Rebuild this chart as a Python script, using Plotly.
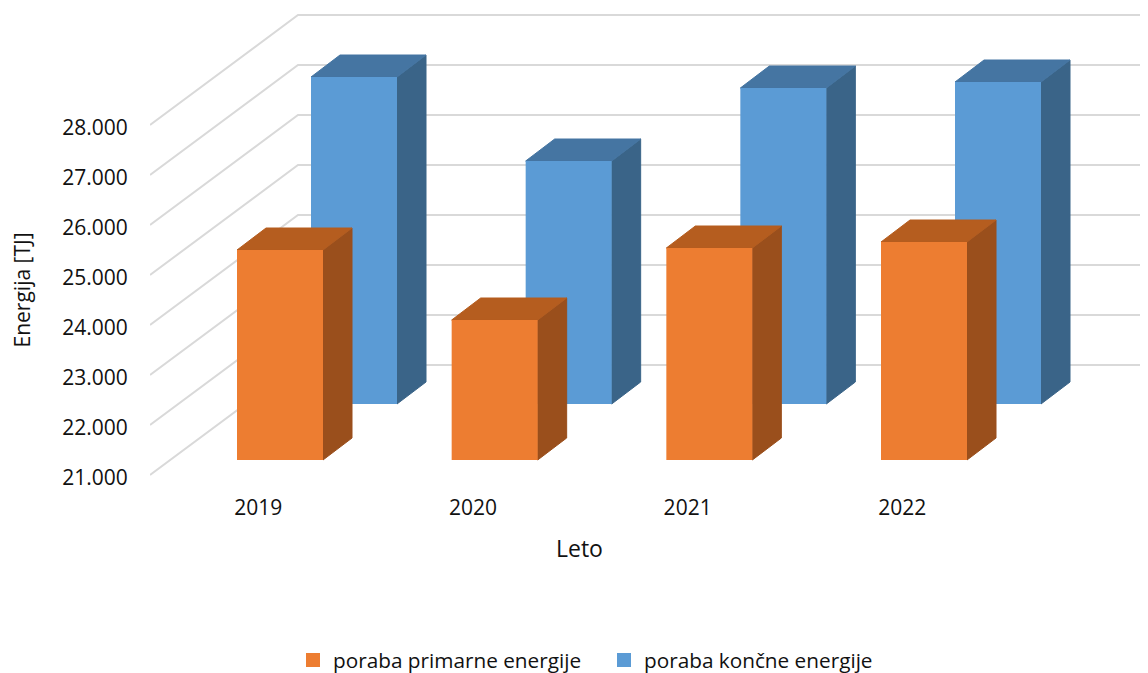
import plotly.graph_objects as go

# Data
years = ["2019", "2020", "2021", "2022"]
primary = [25200, 23800, 25240, 25360]
final = [27540, 25860, 27320, 27440]
y_ticks = [21000, 22000, 23000, 24000, 25000, 26000, 27000, 28000]
y_labels = ["21.000", "22.000", "23.000", "24.000", "25.000", "26.000", "27.000", "28.000"]
names = ["poraba primarne energije", "poraba končne energije"]

# Geometry: positions are page pixels; the browser page has an 8 px body margin
OFF = 8
PAGE_W, PAGE_H = 1148, 673
W, H = PAGE_W - OFF, PAGE_H - OFF
PLOT_L, PLOT_T, PLOT_B = 150, OFF, 493
Y21_PX, PX_PER_K = 475, 50
CAT0_PX, CAT_PX = 257.3, 214.67

px_x = lambda p: p / CAT_PX
px_y = lambda p: p / PX_PER_K * 1000
x_min = (PLOT_L - CAT0_PX) / CAT_PX
x_max = (PAGE_W - CAT0_PX) / CAT_PX
y_min = 21000 - px_y(PLOT_B - Y21_PX)
y_max = 21000 + px_y(Y21_PX - PLOT_T)

BAR_W = px_x(86)
DEPTH_X, DEPTH_Y = px_x(29), px_y(22)
GRID_DX, GRID_DY = px_x(148), px_y(110)

fig = go.Figure()

# Walls: diagonal side wall then back wall gridlines
gx, gy = [], []
for t in y_ticks:
    gx += [x_min, x_min + GRID_DX, x_max, None]
    gy += [t, t + GRID_DY, t + GRID_DY, None]
fig.add_trace(go.Scatter(x=gx, y=gy, mode="lines", line=dict(color="#D9D9D9", width=2),
                         hoverinfo="skip", showlegend=False))


def add_series(values, x_off_px, base_off_px, front, top, side):
    xf, yf, xt, yt, xs, ys = [], [], [], [], [], []
    base = 21000 + px_y(base_off_px)
    for i, v in enumerate(values):
        l = i + px_x(x_off_px)
        r = l + BAR_W
        h = base + (v - 21000)
        xf += [l, r, r, l, l, None]
        yf += [base, base, h, h, base, None]
        xt += [l, r, r + DEPTH_X, l + DEPTH_X, l, None]
        yt += [h, h, h + DEPTH_Y, h + DEPTH_Y, h, None]
        xs += [r, r + DEPTH_X, r + DEPTH_X, r, r, None]
        ys += [base, base + DEPTH_Y, h + DEPTH_Y, h, base, None]
    for xx, yy, c, lw in ((xs, ys, side, 1), (xt, yt, top, 1), (xf, yf, front, 0)):
        fig.add_trace(go.Scatter(x=xx, y=yy, mode="lines", fill="toself", fillcolor=c,
                                 line=dict(width=lw, color=c), hoverinfo="skip", showlegend=False))


add_series(final, 53.7, 71, "#5B9BD5", "#4575A2", "#3A6488")
add_series(primary, -20.3, 15, "#ED7D31", "#B55D1F", "#9A4F1C")

for name, c in zip(names, ["#ED7D31", "#5B9BD5"]):
    fig.add_trace(go.Scatter(x=[None], y=[None], mode="markers", name=name,
                             marker=dict(symbol="square", size=14, color=c)))

FONT = dict(family="Open Sans", size=21, color="#111111")
fig.update_layout(
    width=W, height=H, autosize=False,
    margin=dict(l=PLOT_L - OFF, r=0, t=PLOT_T - OFF, b=PAGE_H - PLOT_B, autoexpand=False),
    paper_bgcolor="white", plot_bgcolor="white", font=FONT,
    legend=dict(orientation="h", xref="container", x=(293 - OFF) / W, xanchor="left",
                yref="container", y=1 - (660 - OFF) / H, yanchor="middle",
                font=dict(family="Open Sans", size=20.75, color="#111111"),
                itemwidth=30, entrywidth=266, bgcolor="rgba(0,0,0,0)"),
    xaxis=dict(range=[x_min, x_max], tickmode="array", tickvals=list(range(len(years))), ticktext=years,
               showgrid=False, zeroline=False, showline=False, ticks="", ticklen=0, ticklabelshift=1),
    yaxis=dict(range=[y_min, y_max], tickmode="array", tickvals=y_ticks, ticktext=y_labels,
               showgrid=False, zeroline=False, showline=False, ticks="outside", ticklen=17,
               tickcolor="rgba(0,0,0,0)", ticklabelshift=3),
    annotations=[
        dict(text="Leto", xref="paper", yref="paper", showarrow=False, xanchor="center", yanchor="middle",
             x=(579 - PLOT_L) / (PAGE_W - PLOT_L), y=-(548 - PLOT_B) / (PLOT_B - PLOT_T),
             font=dict(family="Open Sans", size=23, color="#111111")),
        dict(text="Energija [TJ]", xref="paper", yref="paper", showarrow=False, textangle=-90,
             xanchor="center", yanchor="middle",
             x=(22 - PLOT_L) / (PAGE_W - PLOT_L), y=(PLOT_B - 290.5) / (PLOT_B - PLOT_T), font=FONT),
    ],
)
fig.write_html("out.html")
